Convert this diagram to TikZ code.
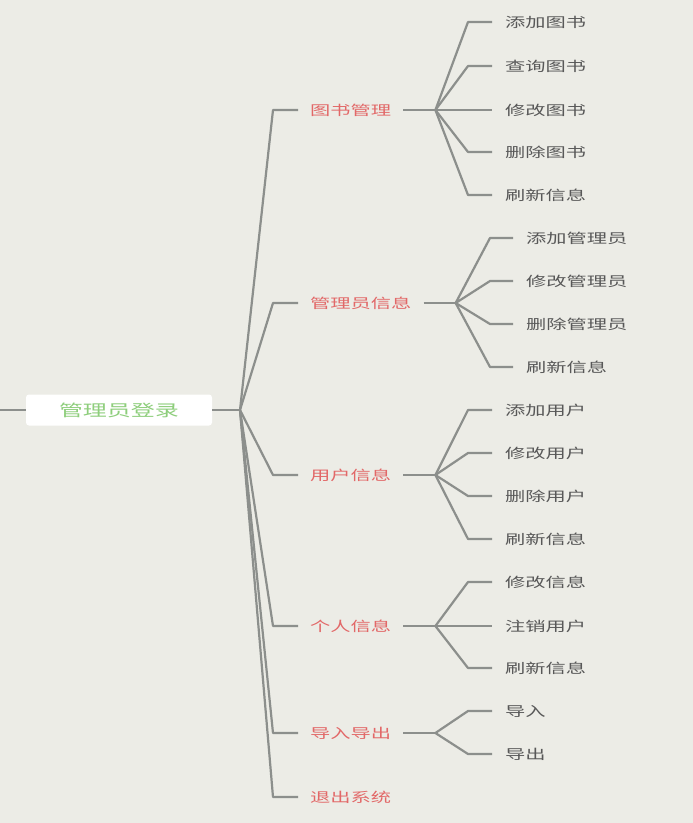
\documentclass[tikz,border=0pt]{standalone}
\usepackage{fontspec}
\usepackage{tikz}
\newfontfamily\cjk[FakeStretch=1.5]{Noto Sans CJK SC}

\definecolor{bggray}{RGB}{236,236,230}
\definecolor{linegray}{RGB}{140,143,140}
\definecolor{branchred}{RGB}{226,104,104}
\definecolor{rootgreen}{RGB}{142,206,124}
\definecolor{leafgray}{RGB}{88,88,88}

\tikzset{
  link/.style={draw=linegray, line width=2.2pt, line join=round},
  rootbox/.style={fill=white, rounded corners=3pt, minimum width=186pt,
    minimum height=31pt, text=rootgreen, font=\cjk\fontsize{16}{18}\selectfont},
  branch/.style={anchor=west, inner xsep=12pt, text=branchred,
    font=\cjk\fontsize{13.5}{16}\selectfont},
  leaf/.style={anchor=west, inner xsep=13pt, text=leafgray,
    font=\cjk\fontsize{13.5}{16}\selectfont}
}

\begin{document}
\begin{tikzpicture}[x=1pt,y=-1pt]
                \fill[bggray] (0,0) rectangle (693,823);
                \useasboundingbox (0,0) rectangle (693,823);

                % root
                \coordinate (start) at (0,410);
                \node[rootbox] (root) at (119,410) {管理员登录};
                \coordinate (hub) at (240,410);
                \draw[link] (start) -- (root.west);
                \draw[link] (root.east) -- (hub);

                % branches
                \node[branch] (books) at (298,110) {图书管理};
                \node[branch] (admins) at (298,303) {管理员信息};
                \node[branch] (users) at (298,475) {用户信息};
                \node[branch] (mine) at (298,626) {个人信息};
                \node[branch] (io) at (298,733) {导入导出};
                \node[branch] (quit) at (298,797) {退出系统};

                \draw[link] (hub) -- ([xshift=-25pt]books.west) -- (books.west);
                \draw[link] (hub) -- ([xshift=-25pt]admins.west) -- (admins.west);
                \draw[link] (hub) -- ([xshift=-25pt]users.west) -- (users.west);
                \draw[link] (hub) -- ([xshift=-25pt]mine.west) -- (mine.west);
                \draw[link] (hub) -- ([xshift=-25pt]io.west) -- (io.west);
                \draw[link] (hub) -- ([xshift=-25pt]quit.west) -- (quit.west);

                % 图书管理
                \coordinate (bookshub) at ([xshift=32pt]books.east);
                \draw[link] (books.east) -- (bookshub);
                \node[leaf] (b1) at (492,22) {添加图书};
                \node[leaf] (b2) at (492,66) {查询图书};
                \node[leaf] (b3) at (492,110) {修改图书};
                \node[leaf] (b4) at (492,152) {删除图书};
                \node[leaf] (b5) at (492,195) {刷新信息};
                \draw[link] (bookshub) -- ([xshift=-24pt]b1.west) -- (b1.west);
                \draw[link] (bookshub) -- ([xshift=-24pt]b2.west) -- (b2.west);
                \draw[link] (bookshub) -- (b3.west);
                \draw[link] (bookshub) -- ([xshift=-24pt]b4.west) -- (b4.west);
                \draw[link] (bookshub) -- ([xshift=-24pt]b5.west) -- (b5.west);

                % 管理员信息
                \coordinate (adminshub) at ([xshift=32pt]admins.east);
                \draw[link] (admins.east) -- (adminshub);
                \node[leaf] (a1) at (513,238) {添加管理员};
                \node[leaf] (a2) at (513,281) {修改管理员};
                \node[leaf] (a3) at (513,324) {删除管理员};
                \node[leaf] (a4) at (513,367) {刷新信息};
                \draw[link] (adminshub) -- ([xshift=-23pt]a1.west) -- (a1.west);
                \draw[link] (adminshub) -- ([xshift=-23pt]a2.west) -- (a2.west);
                \draw[link] (adminshub) -- ([xshift=-23pt]a3.west) -- (a3.west);
                \draw[link] (adminshub) -- ([xshift=-23pt]a4.west) -- (a4.west);

                % 用户信息
                \coordinate (usershub) at ([xshift=32pt]users.east);
                \draw[link] (users.east) -- (usershub);
                \node[leaf] (u1) at (492,410) {添加用户};
                \node[leaf] (u2) at (492,453) {修改用户};
                \node[leaf] (u3) at (492,496) {删除用户};
                \node[leaf] (u4) at (492,539) {刷新信息};
                \draw[link] (usershub) -- ([xshift=-24pt]u1.west) -- (u1.west);
                \draw[link] (usershub) -- ([xshift=-24pt]u2.west) -- (u2.west);
                \draw[link] (usershub) -- ([xshift=-24pt]u3.west) -- (u3.west);
                \draw[link] (usershub) -- ([xshift=-24pt]u4.west) -- (u4.west);

                % 个人信息
                \coordinate (minehub) at ([xshift=32pt]mine.east);
                \draw[link] (mine.east) -- (minehub);
                \node[leaf] (m1) at (492,582) {修改信息};
                \node[leaf] (m2) at (492,626) {注销用户};
                \node[leaf] (m3) at (492,668) {刷新信息};
                \draw[link] (minehub) -- ([xshift=-24pt]m1.west) -- (m1.west);
                \draw[link] (minehub) -- (m2.west);
                \draw[link] (minehub) -- ([xshift=-24pt]m3.west) -- (m3.west);

                % 导入导出
                \coordinate (iohub) at ([xshift=32pt]io.east);
                \draw[link] (io.east) -- (iohub);
                \node[leaf] (i1) at (492,711) {导入};
                \node[leaf] (i2) at (492,754) {导出};
                \draw[link] (iohub) -- ([xshift=-24pt]i1.west) -- (i1.west);
                \draw[link] (iohub) -- ([xshift=-24pt]i2.west) -- (i2.west);
\end{tikzpicture}
\end{document}
